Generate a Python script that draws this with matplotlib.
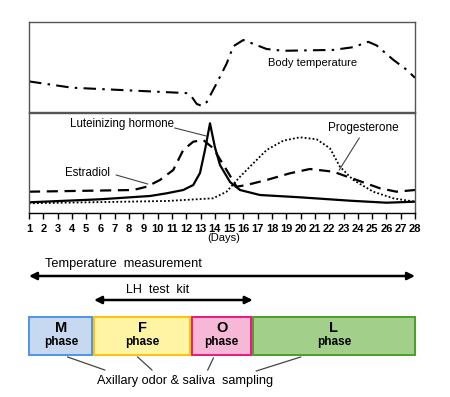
import matplotlib
matplotlib.use("Agg")
import matplotlib.pyplot as plt
from matplotlib.patches import Rectangle

plt.rcParams['font.family'] = ['Liberation Sans', 'DejaVu Sans']

# ---------------- data ----------------
days = list(range(1, 29))

temp_day = [1, 4, 8, 12, 12.38, 12.73, 13.08, 13.43, 14.13, 14.83, 15.29, 15.99,
            17.62, 18.78, 22.28, 23.68, 24.73, 25.31, 26.48, 27.41, 28]
temp_val = [0.34, 0.27, 0.24, 0.21, 0.17, 0.09, 0.067, 0.11, 0.32, 0.54, 0.73, 0.80,
            0.70, 0.68, 0.69, 0.72, 0.78, 0.74, 0.58, 0.47, 0.38]

lh_day = [1, 5.96, 9.46, 10.63, 11.79, 12.49, 12.96, 13.31, 13.66, 14.0, 14.36,
          15.06, 15.76, 17.15, 19.95, 23.45, 26.0, 28]
lh_val = [0.107, 0.137, 0.17, 0.197, 0.23, 0.28, 0.40, 0.63, 0.897, 0.66, 0.48,
          0.31, 0.23, 0.18, 0.157, 0.123, 0.103, 0.113]

e2_day = [1, 8.3, 9.23, 10.16, 11.09, 11.79, 12.49, 13.19, 13.89, 14.82, 15.52,
          16.22, 17.62, 19.25, 20.65, 22.28, 23.92, 25.55, 26.71, 28]
e2_val = [0.213, 0.23, 0.263, 0.33, 0.43, 0.63, 0.713, 0.73, 0.647, 0.43, 0.263,
          0.28, 0.33, 0.397, 0.44, 0.413, 0.33, 0.247, 0.213, 0.23]

p4_day = [1, 10.63, 13.89, 14.82, 15.76, 16.69, 17.62, 18.78, 19.95, 21.12, 22.05,
          22.75, 23.68, 25.08, 26.48, 28]
p4_val = [0.097, 0.12, 0.147, 0.213, 0.363, 0.497, 0.63, 0.723, 0.757, 0.737, 0.647,
          0.463, 0.33, 0.213, 0.147, 0.113]

phase_letters = ['M', 'F', 'O', 'L']
phase_bounds = [0.95, 5.5, 12.35, 16.6, 28.05]
phase_fill = ['#c6d9f1', '#fff4a3', '#f6b8d6', '#a2d08a']
phase_edge = ['#4d94ec', '#ffc400', '#e8197d', '#4a9e2a']

temp_meas_span = [1, 28]
lh_kit_span = [5.55, 16.65]

# ---------------- figure ----------------
W, H = 450, 397
fig = plt.figure(figsize=(W / 100, H / 100), dpi=100)
fig.patch.set_facecolor('white')

def px_axes(x0, y0, x1, y1):
    return fig.add_axes([x0 / W, 1 - y1 / H, (x1 - x0) / W, (y1 - y0) / H])

frame_col = '#555555'

# top panel: body temperature
ax1 = px_axes(29, 22, 415, 112)
ax1.plot(temp_day, temp_val, color='black', lw=1.5, linestyle=(0, (6, 3, 1.2, 3)))
ax1.set_xlim(1, 28)
ax1.set_ylim(0, 1)
ax1.set_xticks([]); ax1.set_yticks([])
for s in ax1.spines.values():
    s.set_color(frame_col); s.set_linewidth(1.0)
ax1.text(0.62, 0.55, 'Body temperature', transform=ax1.transAxes, fontsize=8, ha='left', va='center')

# lower panel: hormones
ax2 = px_axes(29, 113, 415, 213)
ax2.plot(lh_day, lh_val, color='black', lw=1.6)
ax2.plot(e2_day, e2_val, color='black', lw=1.6, linestyle=(0, (5, 3)))
ax2.plot(p4_day, p4_val, color='black', lw=1.3, linestyle=(0, (1, 1.2)))
ax2.set_xlim(1, 28)
ax2.set_ylim(0, 1)
ax2.set_yticks([])
ax2.set_xticks(days)
ax2.set_xticklabels([str(d) for d in days], fontsize=8, fontweight='bold')
ax2.tick_params(axis='x', direction='out', length=4, width=1, pad=4, colors='black')
for s in ax2.spines.values():
    s.set_color(frame_col); s.set_linewidth(1.0)
ax2.spines['bottom'].set_color('black')
ax2.text(14.6, -0.25, '(Days)', ha='center', va='center', fontsize=8)

# hormone labels and leaders
ax2.text(3.9, 0.89, 'Luteinizing hormone', fontsize=8.3, ha='left', va='center')
ax2.plot([11.2, 13.4], [0.85, 0.77], color='#444444', lw=0.8)
ax2.text(21.9, 0.85, 'Progesterone', fontsize=8.5, ha='left', va='center')
ax2.plot([24.1, 22.7], [0.75, 0.43], color='#444444', lw=0.8)
ax2.text(3.5, 0.40, 'Estradiol', fontsize=8.3, ha='left', va='center')
ax2.plot([7.1, 9.3], [0.38, 0.29], color='#444444', lw=0.8)

# bottom section
ax3 = px_axes(29, 250, 415, 397)
ax3.set_xlim(1, 28)
ax3.set_ylim(397, 250)
ax3.axis('off')

def darrow(x0, x1, y):
    ax3.annotate('', xy=(x1, y), xytext=(x0, y),
                 arrowprops=dict(arrowstyle='<|-|>', color='black', lw=1.8,
                                 mutation_scale=11, shrinkA=0, shrinkB=0),
                 annotation_clip=False)

darrow(temp_meas_span[0], temp_meas_span[1], 276)
ax3.text(2.1, 264, 'Temperature  measurement', fontsize=9.2, ha='left', va='center')
darrow(lh_kit_span[0], lh_kit_span[1], 300)
ax3.text(7.8, 290, 'LH  test  kit', fontsize=9, ha='left', va='center')

for i, letter in enumerate(phase_letters):
    x0, x1 = phase_bounds[i], phase_bounds[i + 1]
    ax3.add_patch(Rectangle((x0 + 0.06, 316.5), x1 - x0 - 0.12, 38,
                            facecolor=phase_fill[i], edgecolor=phase_edge[i],
                            lw=1.4, clip_on=False))
    xc = (x0 + x1) / 2
    ax3.text(xc, 328, letter, fontsize=10.5, fontweight='bold', ha='center', va='center')
    ax3.text(xc, 342, 'phase', fontsize=8.5, fontweight='bold', ha='center', va='center')

# sampling leaders
lead_col = '#444444'
ax3.plot([3.7, 6.3], [357, 370], color=lead_col, lw=0.9, clip_on=False)
ax3.plot([8.6, 9.6], [357, 370], color=lead_col, lw=0.9, clip_on=False)
ax3.plot([13.9, 13.5], [358, 370], color=lead_col, lw=0.9, clip_on=False)
ax3.plot([20.0, 16.9], [357, 371], color=lead_col, lw=0.9, clip_on=False)
ax3.text(11.9, 381, 'Axillary odor & saliva  sampling', fontsize=9.2, ha='center', va='center')

fig.savefig('out.png', dpi=100, facecolor='white')
